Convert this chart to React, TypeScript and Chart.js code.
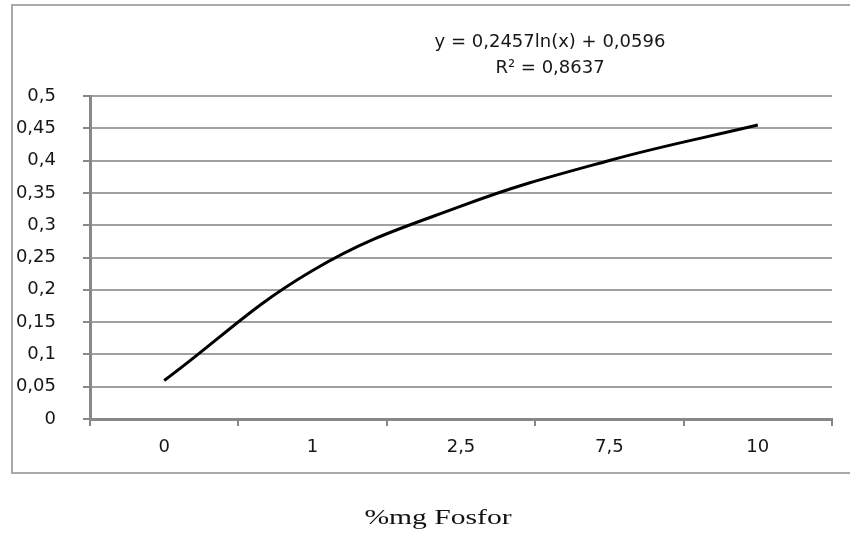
import React, { useEffect, useRef } from "react";
import { Chart, registerables } from "chart.js";

Chart.register(...registerables);

const categories = ["0", "1", "2,5", "7,5", "10"];
const values = [0.0596, 0.2299, 0.3295, 0.4002, 0.455];
const equationLines = ["y = 0,2457ln(x) + 0,0596", "R² = 0,8637"];
const xAxisTitle = "%mg Fosfor";

const TICK_FONT = { family: "'DejaVu Sans'", size: 18 };
const TEXT_COLOR = "#161616";

const decorPlugin = {
  id: "decor",
  beforeDraw(chart: any) {
    const ctx = chart.ctx;
    ctx.save();
    ctx.strokeStyle = "#aaaaaa";
    ctx.lineWidth = 2;
    ctx.strokeRect(12, 5, 860, 468);
    ctx.restore();
  },
  afterDraw(chart: any) {
    const ctx = chart.ctx;
    ctx.save();
    ctx.fillStyle = TEXT_COLOR;
    ctx.textAlign = "center";
    ctx.textBaseline = "middle";
    ctx.font = "18px 'DejaVu Sans'";
    ctx.fillText(equationLines[0], 550, 42);
    ctx.fillText(equationLines[1], 550, 68);
    ctx.restore();

    ctx.save();
    ctx.fillStyle = "#111";
    ctx.textAlign = "center";
    ctx.textBaseline = "alphabetic";
    ctx.font = "20px 'Liberation Serif'";
    ctx.translate(438, 524);
    ctx.scale(1.48, 1);
    ctx.fillText(xAxisTitle, 0, 0);
    ctx.restore();
  },
};

export default function App() {
  const ref = useRef<HTMLCanvasElement | null>(null);

  useEffect(() => {
    if (!ref.current) return;
    const chart = new Chart(ref.current, {
      type: "line",
      data: {
        labels: categories,
        datasets: [
          {
            data: values,
            borderColor: "#000",
            borderWidth: 3,
            pointRadius: 0,
            tension: 0.4,
            fill: false,
          },
        ],
      },
      options: {
        animation: false,
        responsive: false,
        devicePixelRatio: 1,
        layout: { padding: { top: 96, right: 18, left: 0, bottom: 0 } },
        plugins: {
          legend: { display: false },
          tooltip: { enabled: false },
          title: { display: false },
        },
        scales: {
          x: {
            offset: true,
            grid: {
              offset: true,
              drawOnChartArea: false,
              drawTicks: true,
              tickLength: 7,
              color: "#888",
              lineWidth: 2,
            },
            border: { color: "#888", width: 3 },
            ticks: { font: TICK_FONT, color: TEXT_COLOR, padding: 11, maxRotation: 0 },
            afterFit: (s: any) => {
              s.height = 116;
            },
          },
          y: {
            min: 0,
            max: 0.5,
            ticks: {
              stepSize: 0.05,
              font: TICK_FONT,
              color: TEXT_COLOR,
              padding: 27,
              callback: (v: any) => String(Math.round(Number(v) * 100) / 100).replace(".", ","),
            },
            grid: {
              color: "#a0a0a0",
              lineWidth: 2,
              tickLength: 7,
              tickColor: "#888",
            },
            border: { color: "#888", width: 3 },
            afterFit: (s: any) => {
              s.width = 90;
            },
          },
        },
      } as any,
      plugins: [decorPlugin],
    });
    return () => chart.destroy();
  }, []);

  return (
    <div style={{ position: "absolute", left: 0, top: 0, width: 850, height: 535, background: "#fff" }}>
      <canvas ref={ref} width={850} height={535} />
    </div>
  );
}
